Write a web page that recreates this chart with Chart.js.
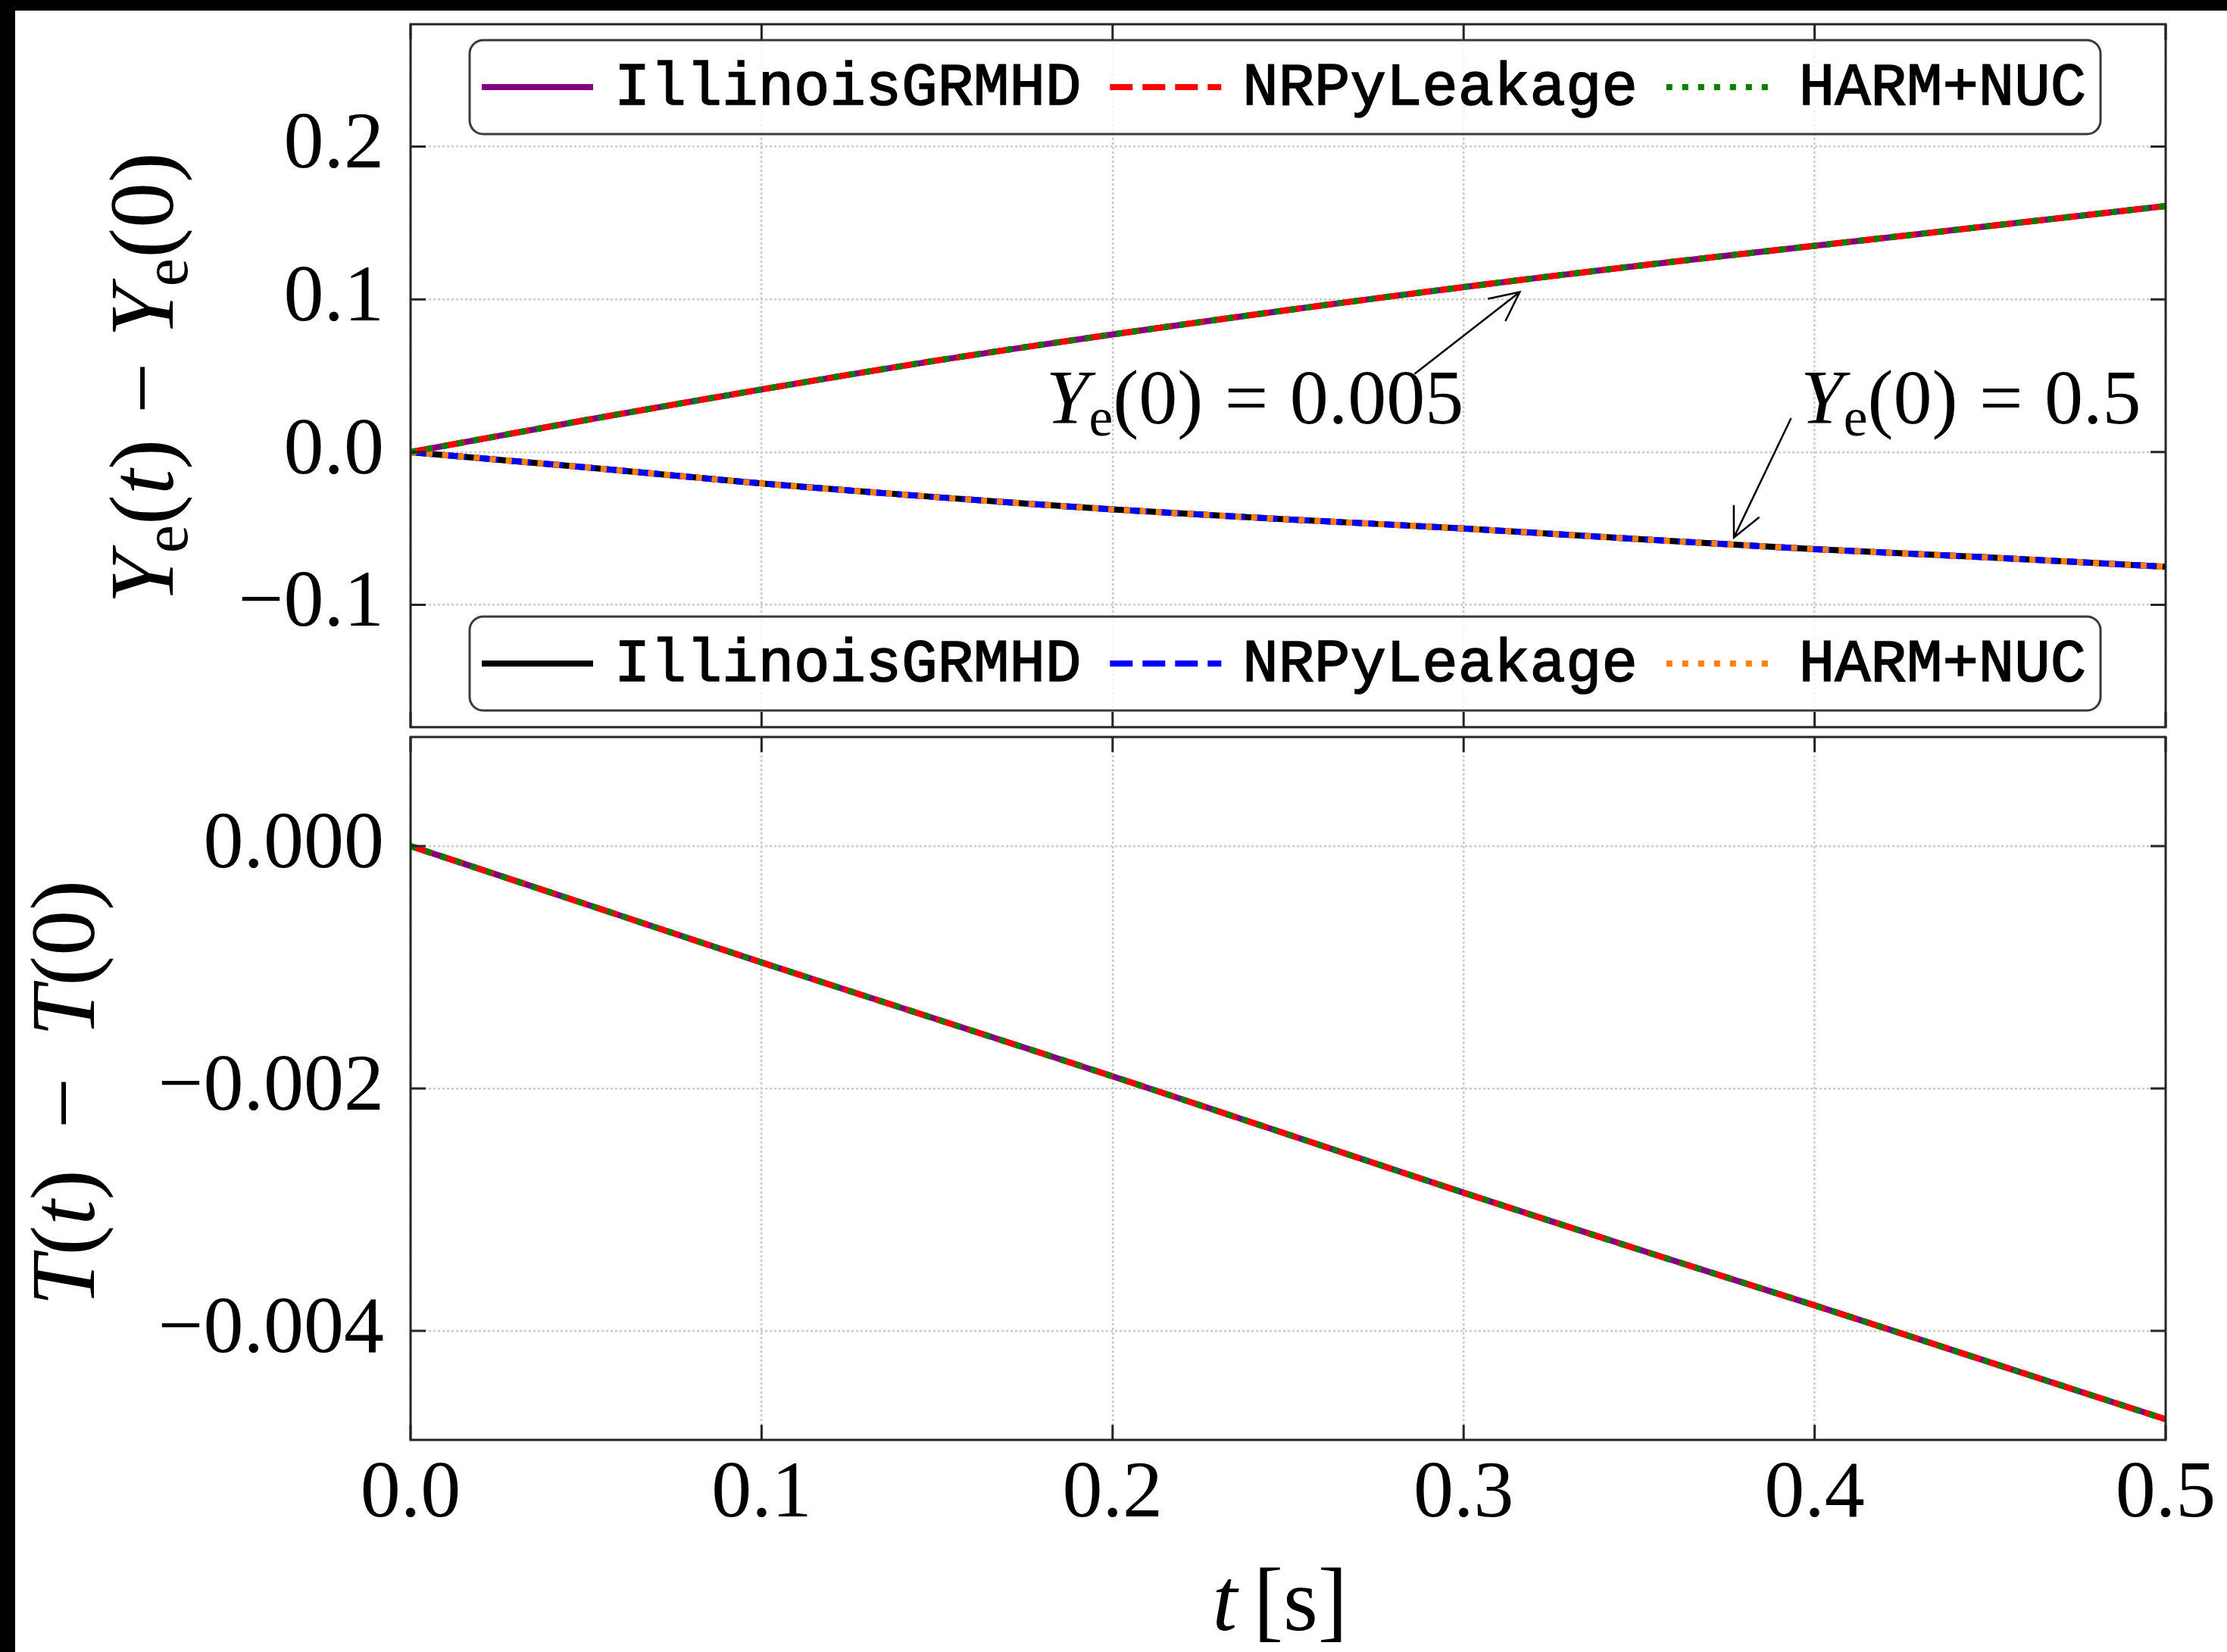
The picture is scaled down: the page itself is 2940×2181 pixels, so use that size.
<!DOCTYPE html>
<html>
<head>
<meta charset="utf-8">
<title>Ye and T evolution</title>
<script src="https://cdn.jsdelivr.net/npm/chart.js@4.4.0/dist/chart.umd.min.js"></script>
<style>
  html, body { margin: 0; padding: 0; background: #000; }
  #page { position: absolute; left: 20px; top: 14px; width: 2920px; height: 2167px; background: #fff; }
  canvas { position: absolute; left: 0; }
  #topChart { top: 0; }
  #bottomChart { top: 967px; }
</style>
</head>
<body>
<div id="page"></div>
<canvas id="topChart" width="2940" height="967"></canvas>
<canvas id="bottomChart" width="2940" height="1214"></canvas>
<script>
// time in seconds
var time = [0, 0.05, 0.1, 0.15, 0.2, 0.25, 0.3, 0.35, 0.4, 0.45, 0.5];

// Ye(t) - Ye(0), all three codes lie on top of each other
var yeLow  = [0, 0.021, 0.041, 0.060, 0.077, 0.093, 0.108, 0.122, 0.135, 0.148, 0.161];        // Ye(0) = 0.005
var yeHigh = [0, -0.010, -0.0205, -0.0295, -0.0375, -0.044, -0.050, -0.057, -0.0635, -0.069, -0.075]; // Ye(0) = 0.5

// T(t) - T(0)
var tempDiff = [0, -0.00048, -0.00096, -0.00143, -0.0019, -0.00238, -0.00286, -0.00333, -0.00379, -0.00426, -0.00473];

var codes = ['IllinoisGRMHD', 'NRPyLeakage', 'HARM+NUC'];
var lowColors = ['#800080', '#ff0000', '#008000'];
var highColors = ['#000000', '#0000ff', '#ff7f0e'];

var xTicks = [0, 0.1, 0.2, 0.3, 0.4, 0.5];
var xTickLabels = ['0.0', '0.1', '0.2', '0.3', '0.4', '0.5'];
var yTicksTop = [0.2, 0.1, 0, -0.1];
var yTickLabelsTop = ['0.2', '0.1', '0.0', '\u22120.1'];
var yTicksBottom = [0, -0.002, -0.004];
var yTickLabelsBottom = ['0.000', '\u22120.002', '\u22120.004'];

var dashes = { solid: [], dashed: [30, 13], dotted: [8, 13] };
var styles = ['solid', 'dashed', 'dotted'];

function points(arr) {
    return time.map(function(t, i) { return { x: t, y: arr[i] }; });
}

function makeLine(label, arr, color, k) {
    return {
        label: label,
        data: points(arr),
        borderColor: color,
        borderWidth: 8,
        borderDash: dashes[styles[k]],
        pointRadius: 0,
        tension: 0.3,
        fill: false,
        order: 3 - k
    };
}

function serif(size, italic) {
    return (italic ? 'italic ' : '') + size + 'px "Liberation Serif"';
}

// text with italic letters and subscripts; opPad = space around operators in em
function drawMath(ctx, segs, x, y, size, center, opPad) {
    var pad = (opPad || 0.28) * size;
    var parts = segs.map(function(s) {
        var font = serif(s.sub ? size * 0.7 : size, s.it);
        ctx.font = font;
        return { s: s, font: font, w: ctx.measureText(s.t).width, pad: s.op ? pad : (s.gap || 0) * size };
    });
    var total = parts.reduce(function(a, p) { return a + p.w + 2 * p.pad; }, 0);
    var cx = center ? x - total / 2 : x;
    ctx.fillStyle = '#000';
    ctx.textBaseline = 'alphabetic';
    ctx.textAlign = 'left';
    parts.forEach(function(p) {
        cx += p.pad;
        ctx.font = p.font;
        ctx.fillText(p.s.t, cx, y + (p.s.sub ? 0.16 * size : 0));
        cx += p.w + p.pad;
    });
}

function drawArrow(ctx, x1, y1, x2, y2) {
    var ang = Math.atan2(y1 - y2, x1 - x2), len = 43, spread = 0.45;
    ctx.save();
    ctx.strokeStyle = '#000';
    ctx.lineWidth = 2.5;
    ctx.setLineDash([]);
    ctx.beginPath();
    ctx.moveTo(x1, y1);
    ctx.lineTo(x2, y2);
    ctx.moveTo(x2 + len * Math.cos(ang + spread), y2 + len * Math.sin(ang + spread));
    ctx.lineTo(x2, y2);
    ctx.lineTo(x2 + len * Math.cos(ang - spread), y2 + len * Math.sin(ang - spread));
    ctx.stroke();
    ctx.restore();
}

function drawLegend(chart, idxs, left, top) {
    var ctx = chart.ctx, h = 124, padL = 16, padR = 19, hl = 147, hg = 28, ig = 38;
    ctx.save();
    ctx.font = '79px "Liberation Mono"';
    var widths = idxs.map(function(k) { return ctx.measureText(chart.data.datasets[k].label).width; });
    var w = padL + padR + (idxs.length - 1) * ig;
    widths.forEach(function(tw) { w += hl + hg + tw; });
    ctx.beginPath();
    ctx.roundRect(left, top, w, h, 18);
    ctx.fillStyle = 'rgba(255,255,255,0.8)';
    ctx.fill();
    ctx.lineWidth = 3;
    ctx.strokeStyle = '#3a3a3a';
    ctx.stroke();
    var x = left + padL, cy = top + h / 2;
    idxs.forEach(function(k, j) {
        var ds = chart.data.datasets[k];
        ctx.beginPath();
        ctx.strokeStyle = ds.borderColor;
        ctx.lineWidth = ds.borderWidth;
        ctx.setLineDash(ds.borderDash);
        ctx.moveTo(x, cy);
        ctx.lineTo(x + hl, cy);
        ctx.stroke();
        ctx.setLineDash([]);
        ctx.fillStyle = '#000';
        ctx.strokeStyle = '#000';
        ctx.lineWidth = 1.6;
        ctx.textBaseline = 'middle';
        ctx.textAlign = 'left';
        ctx.fillText(ds.label, x + hl + hg, cy + 2);
        ctx.strokeText(ds.label, x + hl + hg, cy + 2);
        x += hl + hg + widths[j] + ig;
    });
    ctx.restore();
}

var framePlugin = {
    id: 'frame',
    afterDraw: function(chart) {
        var ctx = chart.ctx, a = chart.chartArea, sx = chart.scales.x, sy = chart.scales.y;
        ctx.save();
        ctx.strokeStyle = '#262626';
        ctx.lineWidth = 3;
        ctx.setLineDash([]);
        ctx.beginPath();
        sx.ticks.forEach(function(t) {
            var p = sx.getPixelForValue(t.value);
            ctx.moveTo(p, a.top); ctx.lineTo(p, a.top + 20);
            ctx.moveTo(p, a.bottom); ctx.lineTo(p, a.bottom - 20);
        });
        sy.ticks.forEach(function(t) {
            var p = sy.getPixelForValue(t.value);
            ctx.moveTo(a.left, p); ctx.lineTo(a.left + 20, p);
            ctx.moveTo(a.right, p); ctx.lineTo(a.right - 20, p);
        });
        ctx.stroke();
        ctx.strokeRect(a.left, a.top, a.right - a.left, a.bottom - a.top);
        ctx.restore();
    }
};

function noPad(s) {
    s.paddingTop = 0; s.paddingBottom = 0; s.paddingLeft = 0; s.paddingRight = 0;
}

function xScale(showLabels, height) {
    return {
        type: 'linear',
        min: 0,
        max: 0.5,
        afterBuildTicks: function(s) { s.ticks = xTicks.map(function(v) { return { value: v }; }); },
        afterFit: function(s) { s.height = height; noPad(s); },
        ticks: {
            display: showLabels,
            padding: 10,
            color: '#000',
            font: { family: 'Liberation Serif', size: 106 },
            callback: function(v, i) { return xTickLabels[i]; }
        },
        grid: { color: '#cccccc', lineWidth: 2.5, drawTicks: false },
        border: { display: false, dash: [3, 3] }
    };
}

function yScale(min, max, ticks, labels) {
    return {
        type: 'linear',
        min: min,
        max: max,
        afterBuildTicks: function(s) { s.ticks = ticks.map(function(v) { return { value: v }; }); },
        afterFit: function(s) { s.width = 542; noPad(s); },
        ticks: {
            padding: 35,
            color: '#000',
            font: { family: 'Liberation Serif', size: 106 },
            callback: function(v, i) { return labels[i]; }
        },
        grid: { color: '#cccccc', lineWidth: 2.5, drawTicks: false },
        border: { display: false, dash: [3, 3] }
    };
}

// ---- top panel: Ye ----
var topDatasets = [];
codes.forEach(function(c, k) { topDatasets.push(makeLine(c, yeLow, lowColors[k], k)); });
codes.forEach(function(c, k) { topDatasets.push(makeLine(c, yeHigh, highColors[k], k)); });

var annotations = [
    { segs: [{ t: 'Y', it: true }, { t: 'e', sub: true }, { t: '(0)' }, { t: '=', op: true }, { t: '0.005' }],
      at: [0.181, 0.0188], from: [0.286, 0.0511], to: [0.316, 0.1048] },
    { segs: [{ t: 'Y', it: true }, { t: 'e', sub: true }, { t: '(0)' }, { t: '=', op: true }, { t: '0.5' }],
      at: [0.396, 0.0188], from: [0.3933, 0.0222], to: [0.377, -0.0559] }
];

var topExtras = {
    id: 'topExtras',
    afterDatasetsDraw: function(chart) {
        var ctx = chart.ctx, a = chart.chartArea, sx = chart.scales.x, sy = chart.scales.y;
        annotations.forEach(function(an) {
            drawMath(ctx, an.segs, sx.getPixelForValue(an.at[0]), sy.getPixelForValue(an.at[1]), 102, false);
            drawArrow(ctx, sx.getPixelForValue(an.from[0]), sy.getPixelForValue(an.from[1]),
                      sx.getPixelForValue(an.to[0]), sy.getPixelForValue(an.to[1]));
        });
        drawLegend(chart, [0, 1, 2], a.left + 78, a.top + 21);
        drawLegend(chart, [3, 4, 5], a.left + 78, a.bottom - 22 - 124);
        ctx.save();
        ctx.translate(228, (a.top + a.bottom) / 2 + 3);
        ctx.rotate(-Math.PI / 2);
        drawMath(ctx, [{ t: 'Y', it: true }, { t: 'e', sub: true }, { t: '(' }, { t: 't', it: true }, { t: ')' },
                       { t: '\u2212', op: true }, { t: 'Y', it: true }, { t: 'e', sub: true }, { t: '(0)' }], 0, 0, 120, true, 0.28);
        ctx.restore();
    }
};

new Chart(document.getElementById('topChart'), {
    type: 'line',
    data: { datasets: topDatasets },
    options: {
        responsive: false,
        devicePixelRatio: 1,
        animation: false,
        events: [],
        layout: { padding: { left: 0, top: 32, right: 81, bottom: 7 } },
        scales: {
            x: xScale(false, 0),
            y: yScale(-0.18, 0.28, yTicksTop, yTickLabelsTop)
        },
        plugins: { legend: { display: false }, tooltip: { enabled: false } }
    },
    plugins: [topExtras, framePlugin]
});

// ---- bottom panel: T ----
var bottomDatasets = codes.map(function(c, k) { return makeLine(c, tempDiff, lowColors[k], k); });

var bottomExtras = {
    id: 'bottomExtras',
    afterDraw: function(chart) {
        var ctx = chart.ctx, a = chart.chartArea;
        ctx.save();
        ctx.translate(124, (a.top + a.bottom) / 2 + 6);
        ctx.rotate(-Math.PI / 2);
        drawMath(ctx, [{ t: 'T', it: true }, { t: '(' }, { t: 't', it: true }, { t: ')' },
                       { t: '\u2212', op: true }, { t: 'T', it: true }, { t: '(0)' }], 0, 0, 120, true, 0.45);
        ctx.restore();
        drawMath(ctx, [{ t: 't', it: true }, { t: '[s]', gap: 0.18 }], (a.left + a.right) / 2, 1185, 118, true);
    }
};

new Chart(document.getElementById('bottomChart'), {
    type: 'line',
    data: { datasets: bottomDatasets },
    options: {
        responsive: false,
        devicePixelRatio: 1,
        animation: false,
        events: [],
        layout: { padding: { left: 0, top: 6, right: 81, bottom: 0 } },
        scales: {
            x: xScale(true, 280),
            y: yScale(-0.0049, 0.0009, yTicksBottom, yTickLabelsBottom)
        },
        plugins: { legend: { display: false }, tooltip: { enabled: false } }
    },
    plugins: [bottomExtras, framePlugin]
});
</script>
</body>
</html>
